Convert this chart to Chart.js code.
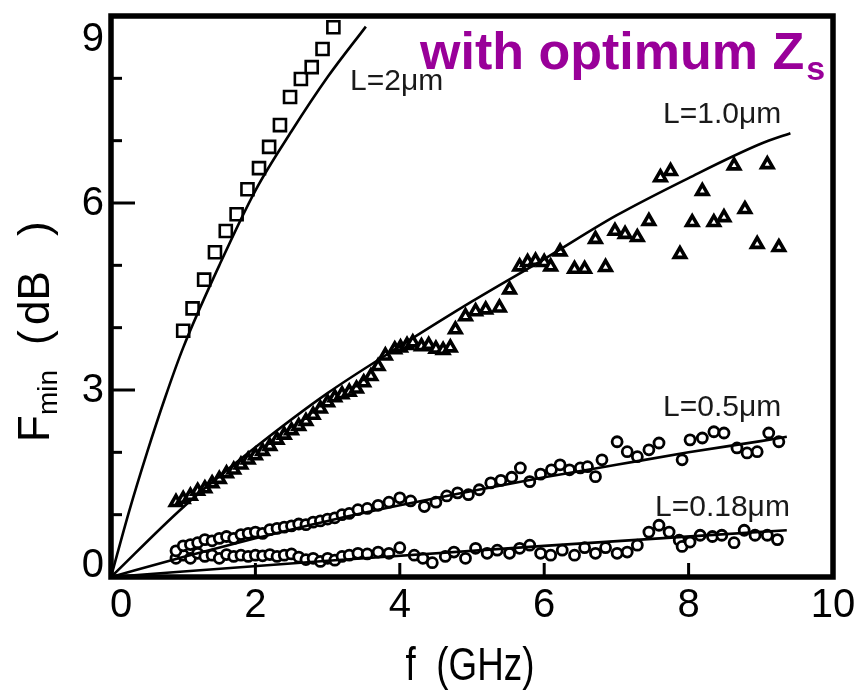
<!DOCTYPE html>
<html>
<head>
<meta charset="utf-8">
<title>Fmin vs f</title>
<script src="https://cdn.jsdelivr.net/npm/chart.js@4.4.0/dist/chart.umd.min.js"></script>
<style>
  html, body { margin: 0; padding: 0; background: #fff; }
</style>
</head>
<body>
<canvas id="canvas" width="865" height="699"></canvas>
<script>
const f2um = [1.0, 1.13, 1.29, 1.44, 1.59, 1.74, 1.89, 2.05, 2.19, 2.34, 2.48, 2.63, 2.78, 2.93, 3.08];
const F2um = [3.95, 4.31, 4.77, 5.21, 5.55, 5.82, 6.22, 6.56, 6.9, 7.25, 7.7, 7.99, 8.18, 8.47, 8.82];

const f1um = [0.9, 1.0, 1.1, 1.2, 1.3, 1.4, 1.5, 1.6, 1.7, 1.8, 1.9, 2.0, 2.1, 2.2, 2.3, 2.4, 2.5, 2.6, 2.7, 2.8,
  2.9, 3.0, 3.1, 3.2, 3.3, 3.4, 3.5, 3.6, 3.7, 3.8, 3.93, 4.01, 4.1, 4.18, 4.3, 4.4, 4.5, 4.6, 4.7, 4.77,
  4.91, 5.05, 5.19, 5.38, 5.52, 5.66, 5.77, 5.88, 6.0, 6.09, 6.22, 6.42, 6.56, 6.71, 6.85, 6.98, 7.12, 7.29, 7.45, 7.61,
  7.75, 7.88, 8.05, 8.19, 8.35, 8.49, 8.63, 8.78, 8.95, 9.09, 9.25];
const F1um = [1.2, 1.25, 1.3, 1.38, 1.42, 1.5, 1.57, 1.66, 1.72, 1.8, 1.88, 1.95, 2.02, 2.1, 2.2, 2.28, 2.35, 2.42, 2.5, 2.6,
  2.7, 2.8, 2.88, 2.93, 2.97, 3.02, 3.12, 3.22, 3.38, 3.55, 3.65, 3.68, 3.72, 3.76, 3.7, 3.72, 3.66, 3.64, 3.68, 3.97,
  4.18, 4.26, 4.29, 4.32, 4.61, 4.98, 5.05, 5.07, 5.05, 4.98, 5.22, 4.94, 4.94, 5.42, 4.97, 5.55, 5.5, 5.45, 5.71, 6.41,
  6.51, 5.18, 5.69, 6.19, 5.69, 5.77, 6.6, 5.9, 5.34, 6.62, 5.29];

const f05um = [0.9, 1.0, 1.1, 1.2, 1.3, 1.4, 1.5, 1.6, 1.7, 1.8, 1.9, 2.0, 2.1, 2.2, 2.3, 2.4, 2.5, 2.6, 2.7, 2.8,
  2.9, 3.0, 3.1, 3.2, 3.3, 3.42, 3.55, 3.7, 3.85, 4.0, 4.15, 4.34, 4.5, 4.65, 4.8, 4.95, 5.1, 5.26, 5.4, 5.55,
  5.67, 5.8, 5.95, 6.1, 6.22, 6.35, 6.5, 6.6, 6.71, 6.8, 7.01, 7.15, 7.29, 7.45, 7.59, 7.91, 8.02, 8.19, 8.35, 8.49,
  8.67, 8.81, 8.95, 9.11, 9.25];
const F05um = [0.42, 0.5, 0.52, 0.55, 0.6, 0.58, 0.62, 0.65, 0.62, 0.68, 0.7, 0.72, 0.7, 0.76, 0.78, 0.8, 0.82, 0.85, 0.84, 0.88,
  0.9, 0.93, 0.95, 1.0, 1.02, 1.08, 1.1, 1.15, 1.2, 1.27, 1.22, 1.13, 1.2, 1.3, 1.35, 1.32, 1.4, 1.51, 1.55, 1.6,
  1.75, 1.53, 1.65, 1.72, 1.8, 1.72, 1.75, 1.77, 1.61, 1.88, 2.17, 2.01, 1.93, 2.04, 2.15, 1.88, 2.2, 2.23, 2.33, 2.31,
  2.07, 1.99, 2.01, 2.31, 2.17];

const f018um = [0.9, 1.0, 1.1, 1.2, 1.3, 1.4, 1.5, 1.6, 1.7, 1.8, 1.9, 2.0, 2.1, 2.2, 2.3, 2.4, 2.5, 2.6, 2.7, 2.8,
  2.9, 3.0, 3.1, 3.2, 3.3, 3.42, 3.55, 3.7, 3.85, 4.0, 4.2, 4.32, 4.45, 4.63, 4.75, 4.91, 5.05, 5.21, 5.35, 5.52,
  5.66, 5.8, 5.95, 6.09, 6.25, 6.42, 6.56, 6.71, 6.85, 7.01, 7.15, 7.29, 7.45, 7.59, 7.73, 7.87, 7.91, 8.02, 8.16, 8.33,
  8.46, 8.63, 8.77, 8.92, 9.09, 9.23];
const F018um = [0.3, 0.35, 0.3, 0.38, 0.33, 0.35, 0.3, 0.36, 0.33, 0.35, 0.33, 0.35, 0.34, 0.36, 0.33, 0.35, 0.37, 0.32, 0.28, 0.3,
  0.25, 0.3, 0.27, 0.33, 0.35, 0.38, 0.37, 0.4, 0.38, 0.47, 0.35, 0.3, 0.23, 0.33, 0.4, 0.3, 0.46, 0.38, 0.43, 0.38,
  0.46, 0.51, 0.38, 0.35, 0.43, 0.35, 0.47, 0.38, 0.47, 0.38, 0.4, 0.51, 0.72, 0.83, 0.72, 0.59, 0.49, 0.56, 0.67, 0.65,
  0.67, 0.55, 0.75, 0.67, 0.67, 0.6];

// Model curves (solid lines)
const fitF2um = [0, 0.25, 0.5, 0.75, 1.0, 1.5, 2.0, 2.5, 3.0, 3.53];
const fitY2um = [0, 1.05, 2.0, 2.88, 3.68, 5.0, 6.2, 7.15, 8.02, 8.83];
const fitF1um = [0, 1, 2, 3, 4, 5, 6, 7, 8, 9, 9.41];
const fitY1um = [0, 1.12, 2.08, 2.95, 3.7, 4.42, 5.1, 5.8, 6.4, 6.95, 7.12];
const fitF05um = [0, 1, 2, 3, 4, 5, 6, 7, 8, 9, 9.36];
const fitY05um = [0, 0.32, 0.62, 0.9, 1.15, 1.38, 1.6, 1.8, 2.0, 2.18, 2.25];
const fitF018um = [0, 3, 6, 9.36];
const fitY018um = [0, 0.26, 0.5, 0.75];

// Axis ticks
const xTicks = [0, 2, 4, 6, 8, 10];
const yTicks = [0, 3, 6, 9];

const pts = (xs, ys) => xs.map((x, i) => ({ x: x, y: ys[i] }));

function marks(xs, ys, style, r, bw) {
    return {
        type: "scatter",
        data: pts(xs, ys),
        pointStyle: style,
        pointRadius: r,
        borderWidth: bw,
        borderColor: "#000",
        backgroundColor: "#fff",
        order: 1
    };
}
function curve(xs, ys) {
    return {
        type: "scatter",
        data: pts(xs, ys),
        showLine: true,
        pointRadius: 0,
        borderColor: "#000",
        borderWidth: 2.6,
        cubicInterpolationMode: "monotone",
        order: 0
    };
}

const FONT = '"Liberation Sans", Arial, sans-serif';

// frame, inward ticks and all the text
const axesPlugin = {
    id: "axesPlugin",
    afterDraw(chart) {
        const ctx = chart.ctx;
        const a = chart.chartArea;
        const xs = chart.scales.x;
        const ys = chart.scales.y;
        ctx.save();
        ctx.strokeStyle = "#000";
        ctx.fillStyle = "#000";

        // ticks
        ctx.lineWidth = 3;
        for (let v = 1; v < 9; v++) {
            const y = ys.getPixelForValue(v);
            const len = v % 3 === 0 ? 24 : 11;
            ctx.beginPath();
            ctx.moveTo(a.left, y);
            ctx.lineTo(a.left + len, y);
            ctx.stroke();
        }
        [2, 4, 6, 8].forEach(v => {
            const x = xs.getPixelForValue(v);
            ctx.beginPath();
            ctx.moveTo(x, a.bottom);
            ctx.lineTo(x, a.bottom - 14);
            ctx.stroke();
        });

        // frame
        ctx.lineWidth = 5.5;
        ctx.strokeRect(a.left, a.top, a.right - a.left, a.bottom - a.top);

        // tick labels
        ctx.font = "40px " + FONT;
        ctx.textBaseline = "middle";
        ctx.textAlign = "right";
        yTicks.forEach(v => {
            let y = ys.getPixelForValue(v);
            y = Math.min(Math.max(y, a.top + 23), a.bottom - 12);
            ctx.fillText(String(v), a.left - 7, y + 1);
        });
        ctx.textAlign = "center";
        xTicks.forEach(v => {
            let x = xs.getPixelForValue(v);
            if (v === 0) x += 10;
            ctx.fillText(String(v), x, 606);
        });

        // x title
        ctx.save();
        ctx.translate(470, 667);
        ctx.scale(0.8, 1);
        ctx.font = "46px " + FONT;
        ctx.fillText("f  (GHz)", 0, 0);
        ctx.restore();

        // y title, rotated
        ctx.save();
        ctx.translate(49, 442);
        ctx.rotate(-Math.PI / 2);
        ctx.textAlign = "left";
        ctx.textBaseline = "alphabetic";
        ctx.font = "44px " + FONT;
        ctx.fillText("F", 0, 0);
        ctx.font = "28px " + FONT;
        ctx.fillText("min", 27, 8);
        ctx.font = "44px " + FONT;
        ctx.fillText("(", 97, 0);
        ctx.fillText("dB", 117, 0);
        ctx.fillText(")", 206, 0);
        ctx.restore();

        // curve labels
        ctx.textAlign = "left";
        ctx.textBaseline = "alphabetic";
        ctx.fillStyle = "#1a1a1a";
        ctx.font = "30px " + FONT;
        ctx.fillText("L=2\u03bcm", 350, 90);
        ctx.fillText("L=1.0\u03bcm", 663, 123);
        ctx.fillText("L=0.5\u03bcm", 663, 416);
        ctx.fillText("L=0.18\u03bcm", 655, 516);

        // purple title
        ctx.fillStyle = "#990099";
        ctx.font = "bold 52px " + FONT;
        ctx.fillText("with optimum Z", 420, 69);
        const w = ctx.measureText("with optimum Z").width;
        ctx.font = "bold 34px " + FONT;
        ctx.fillText("s", 420 + w + 2, 80);

        ctx.restore();
    }
};

const chart = new Chart(document.getElementById("canvas").getContext("2d"), {
    type: "scatter",
    data: {
        datasets: [
            marks(f2um, F2um, "rect", 8.5, 2.6),
            marks(f1um, F1um, "triangle", 6.5, 3.6),
            marks(f05um, F05um, "circle", 5, 2.8),
            marks(f018um, F018um, "circle", 5, 2.8),
            curve(fitF2um, fitY2um),
            curve(fitF1um, fitY1um),
            curve(fitF05um, fitY05um),
            curve(fitF018um, fitY018um)
        ]
    },
    options: {
        responsive: false,
        animation: false,
        layout: { padding: { left: 111, right: 32, top: 16, bottom: 122 } },
        plugins: {
            legend: { display: false },
            tooltip: { enabled: false }
        },
        scales: {
            x: { type: "linear", display: false, min: 0, max: 10 },
            y: { type: "linear", display: false, min: 0, max: 9 }
        }
    },
    plugins: [axesPlugin]
});
</script>
</body>
</html>
